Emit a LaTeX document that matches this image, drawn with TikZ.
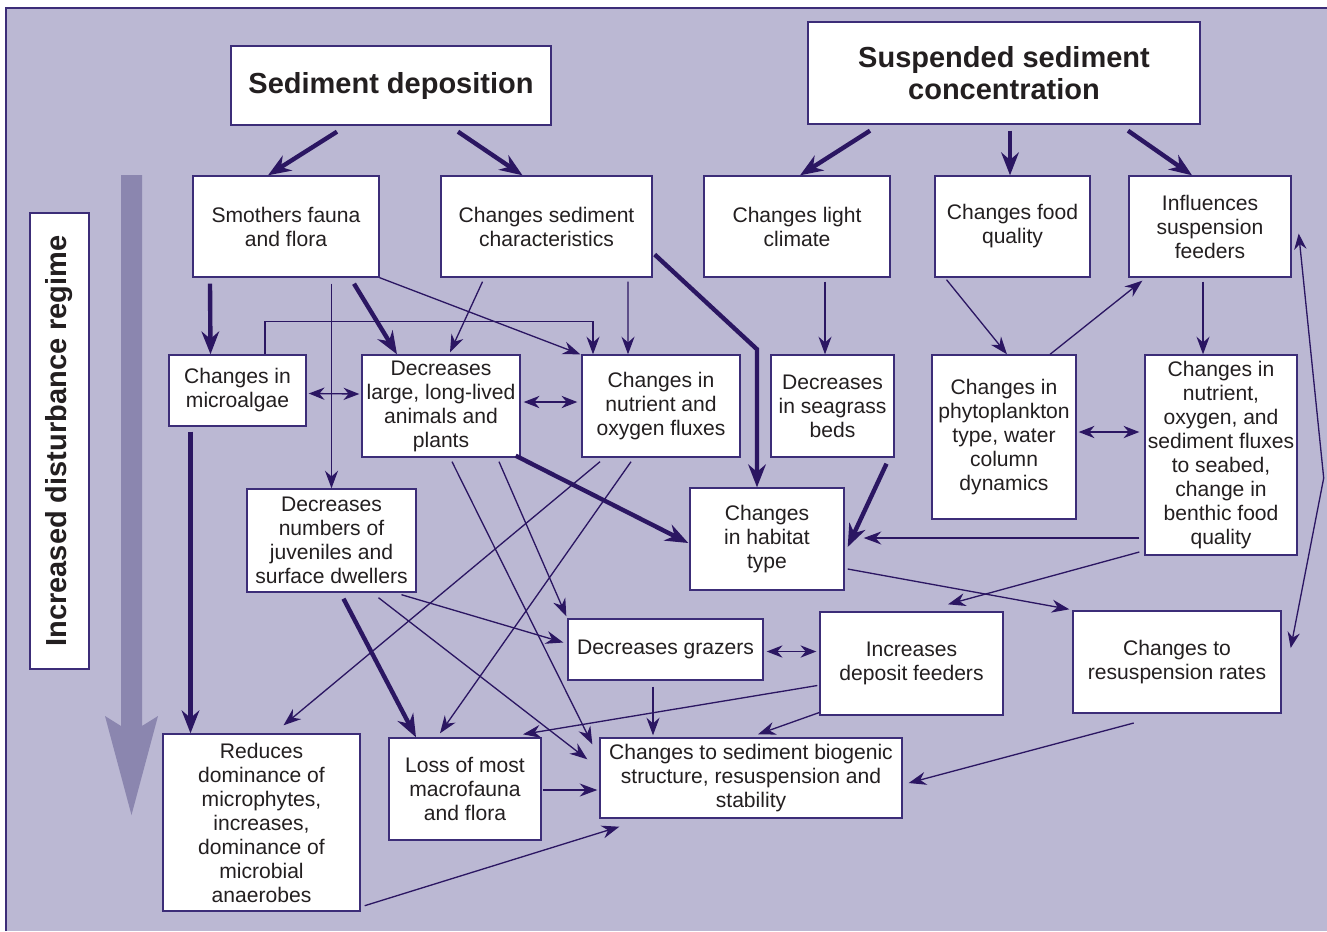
\documentclass[tikz,border=0pt]{standalone}
\usepackage{fontspec}
\setmainfont{Liberation Sans}
\usepackage{xcolor}
\usetikzlibrary{arrows.meta,calc}

\definecolor{bgpanel}{HTML}{BBB8D3}
\definecolor{bigarr}{HTML}{8B86AF}
\definecolor{arrc}{HTML}{2B1662}
\definecolor{boxline}{HTML}{3C2D78}
\definecolor{txt}{HTML}{231F20}

\begin{document}
\begin{tikzpicture}[x=0.02cm, y=-0.02cm,
  box/.style={draw=boxline, fill=white, line width=0.8pt, align=center, inner sep=0pt,
    text=txt, font=\fontsize{12}{13.66}\selectfont},
  title/.style={box, font=\fontsize{16.5}{18.2}\selectfont\bfseries},
  heavy/.style={draw=arrc, line width=2.5pt, -{Stealth[length=13pt, width=10pt]}},
  link/.style={draw=arrc, line width=0.75pt, -{Stealth[length=10pt, width=7.4pt]}},
  both/.style={draw=arrc, line width=0.75pt, {Stealth[length=9pt, width=7pt]}-{Stealth[length=9pt, width=7pt]}}]
\useasboundingbox (0,0) rectangle (1327,931);

% panel
\fill[bgpanel] (6,8) rectangle (1327,931);
\draw[boxline, line width=0.9pt] (6,931) -- (6,8) -- (1327,8);

% disturbance arrow and label
\fill[bigarr] (121,175) -- (142,175) -- (142,726) -- (158,716) -- (131.5,815)
  -- (105,716) -- (121,726) -- cycle;
\node[title, rotate=90, minimum width=9.12cm, minimum height=1.18cm] (regime) at (59.5,441)
  {Increased disturbance regime};

% drivers (top)
\node[title, minimum width=6.4cm, minimum height=1.58cm] (sd) at (391,85.5) {Sediment deposition};
\node[title, minimum width=7.84cm, minimum height=2.04cm] (ssc) at (1004,73) {Suspended sediment\\concentration};

% first row
\node[box, minimum width=3.72cm, minimum height=2.02cm] (smo) at (286,226.5) {Smothers fauna\\and flora};
\node[box, minimum width=4.22cm, minimum height=2.02cm] (sedc) at (546.5,226.5) {Changes sediment\\characteristics};
\node[box, minimum width=3.72cm, minimum height=2.02cm] (light) at (797,226.5) {Changes light\\climate};
\node[box, minimum width=3.10cm, minimum height=2.02cm] (food) at (1012.5,226.5) {Changes food\\quality};
\node[box, minimum width=3.24cm, minimum height=2.02cm] (infl) at (1210,226.5) {Influences\\suspension\\feeders};

% second row
\node[box, minimum width=2.74cm, minimum height=1.42cm] (malg) at (237.5,390.5) {Changes in\\microalgae};
\node[box, minimum width=3.16cm, minimum height=2.04cm] (large) at (441,406) {Decreases\\large, long-lived\\animals and\\plants};
\node[box, minimum width=3.16cm, minimum height=2.04cm] (nutr) at (661,406) {Changes in\\nutrient and\\oxygen fluxes};
\node[box, minimum width=2.46cm, minimum height=2.04cm] (seag) at (832.5,406) {Decreases\\in seagrass\\beds};
\node[box, minimum width=2.88cm, minimum height=3.28cm] (phyto) at (1004,437) {Changes in\\phytoplankton\\type, water\\column\\dynamics};
\node[box, minimum width=3.04cm, minimum height=4.00cm] (flux) at (1221,455) {Changes in\\nutrient,\\oxygen, and\\sediment fluxes\\to seabed,\\change in\\benthic food\\quality};

% third row
\node[box, minimum width=3.38cm, minimum height=2.06cm] (juv) at (331.5,540.5) {Decreases\\numbers of\\juveniles and\\surface dwellers};
\node[box, minimum width=3.08cm, minimum height=2.04cm] (hab) at (767,539) {Changes\\in habitat\\type};
\node[box, minimum width=3.90cm, minimum height=1.22cm] (graz) at (665.5,649.5) {Decreases grazers};
\node[box, minimum width=3.66cm, minimum height=2.06cm] (depo) at (911.5,663.5) {Increases\\deposit feeders};
\node[box, minimum width=4.16cm, minimum height=2.04cm] (resus) at (1177,662) {Changes to\\resuspension rates};

% outcomes (bottom)
\node[box, minimum width=3.94cm, minimum height=3.54cm] (redu) at (261.5,822.5) {Reduces\\dominance of\\microphytes,\\increases,\\dominance of\\microbial\\anaerobes};
\node[box, minimum width=3.04cm, minimum height=2.04cm] (loss) at (465,789) {Loss of most\\macrofauna\\and flora};
\node[box, minimum width=6.04cm, minimum height=1.60cm] (biog) at (751,778) {Changes to sediment biogenic\\structure, resuspension and\\stability};

% heavy arrows
\draw[heavy] ($(sd.south)+(-54,6)$) -- ($(smo.north)+(-18,0)$);
\draw[heavy] ($(sd.south)+(67,6)$) -- ($(sedc.north)+(-24,0)$);
\draw[heavy] ($(ssc.south)+(-134,6)$) -- ($(light.north)+(3,0)$);
\draw[heavy] ($(ssc.south)+(6,6)$) -- ($(food.north)+(-2.5,0)$);
\draw[heavy] ($(ssc.south)+(124,6)$) -- ($(infl.north)+(-18,0)$);
\draw[heavy] ($(smo.south)+(-76,6)$) -- ($(malg.north)+(-27,0)$);
\draw[heavy] ($(smo.south)+(68,6)$) -- ($(large.north)+(-44,0)$);
\draw[heavy] ($(sedc.east)+(2,28)$) -- ($(hab.north)+(-10,-138)$) -- ($(hab.north)+(-10,0)$);
\draw[heavy] ($(malg.south)+(-47,5)$) -- ($(redu.north)+(-71,0)$);
\draw[heavy] ($(large.south east)+(-5,-2)$) -- ($(hab.west)+(-1,4)$);
\draw[heavy] ($(seag.south)+(54,6)$) -- ($(hab.east)+(3,8)$);
\draw[heavy] ($(juv.south)+(12,6)$) -- ($(loss.north)+(-49,0)$);

% thin arrows
\draw[link] ($(smo.south)+(45.5,6)$) -- (juv.north);
\draw[link] (smo.south east) -- ($(nutr.north west)+(-1,0)$);
\draw[link] ($(sedc.south)+(-64,4)$) -- ($(large.north)+(9,-2)$);
\draw[link] ($(sedc.south)+(81.5,4)$) -- ($(nutr.north)+(-33,0)$);
\draw[link] ($(malg.north)+(27.5,0)$) |- ($(nutr.north)+(-68,-33)$) -- ($(nutr.north)+(-68,0)$);
\draw[link] ($(light.south)+(28,4)$) -- ($(seag.north)+(-7.5,0)$);
\draw[link] ($(food.south)+(-66,2)$) -- ($(phyto.north)+(3,0)$);
\draw[link] ($(phyto.north)+(46,0)$) -- ($(infl.south west)+(14,3)$);
\draw[link] ($(infl.south)+(-7,4)$) -- ($(flux.north)+(-18,0)$);
\draw[link] ($(flux.west)+(-5,83)$) -- ($(hab.east)+(19,-1)$);
\draw[link] ($(flux.west)+(-5,97)$) -- ($(depo.north)+(36.5,-7)$);
\draw[link] ($(hab.east)+(3,30)$) -- ($(resus.north west)+(-3,-1)$);
\draw[link] ($(large.south)+(58,4)$) -- ($(graz.north west)+(-1,-2)$);
\draw[link] ($(large.south)+(11,4)$) -- ($(biog.north west)+(-7,7)$);
\draw[link] ($(nutr.south)+(-61,4)$) -- ($(redu.north)+(22,-8)$);
\draw[link] ($(nutr.south)+(-30,4)$) -- ($(loss.north)+(-25,-4)$);
\draw[link] ($(juv.south)+(70,2)$) -- ($(graz.west)+(-4,-7)$);
\draw[link] ($(juv.south)+(47,5)$) -- ($(biog.north west)+(-12,22)$);
\draw[link] ($(graz.south)+(-12.5,6)$) -- ($(biog.north)+(-98,-2)$);
\draw[link] ($(depo.west)+(-2,22)$) -- ($(loss.north)+(58,-3)$);
\draw[link] ($(depo.west)+(0,49)$) -- ($(biog.north)+(7,-3)$);
\draw[link] ($(resus.east)+(-148,61)$) -- ($(biog.east)+(6,5)$);
\draw[link] ($(loss.east)+(1,1)$) -- ($(biog.west)+(-2,12)$);
\draw[link] ($(redu.south east)+(4,-6)$) -- ($(biog.south west)+(20,8)$);

% two-way arrows
\draw[both] ($(malg.east)+(2,3)$) -- ($(large.west)+(-2,-12)$);
\draw[both] ($(large.east)+(3,-4)$) -- ($(nutr.west)+(-4,-4)$);
\draw[both] ($(phyto.east)+(2,-5)$) -- ($(flux.west)+(-5,-23)$);
\draw[both] ($(graz.east)+(3,2)$) -- ($(depo.west)+(-3,-12)$);
\draw[both] ($(infl.east)+(7,7)$) -- ($(flux.east)+(26,23)$) -- ($(resus.east)+(9,-14)$);
\end{tikzpicture}
\end{document}
